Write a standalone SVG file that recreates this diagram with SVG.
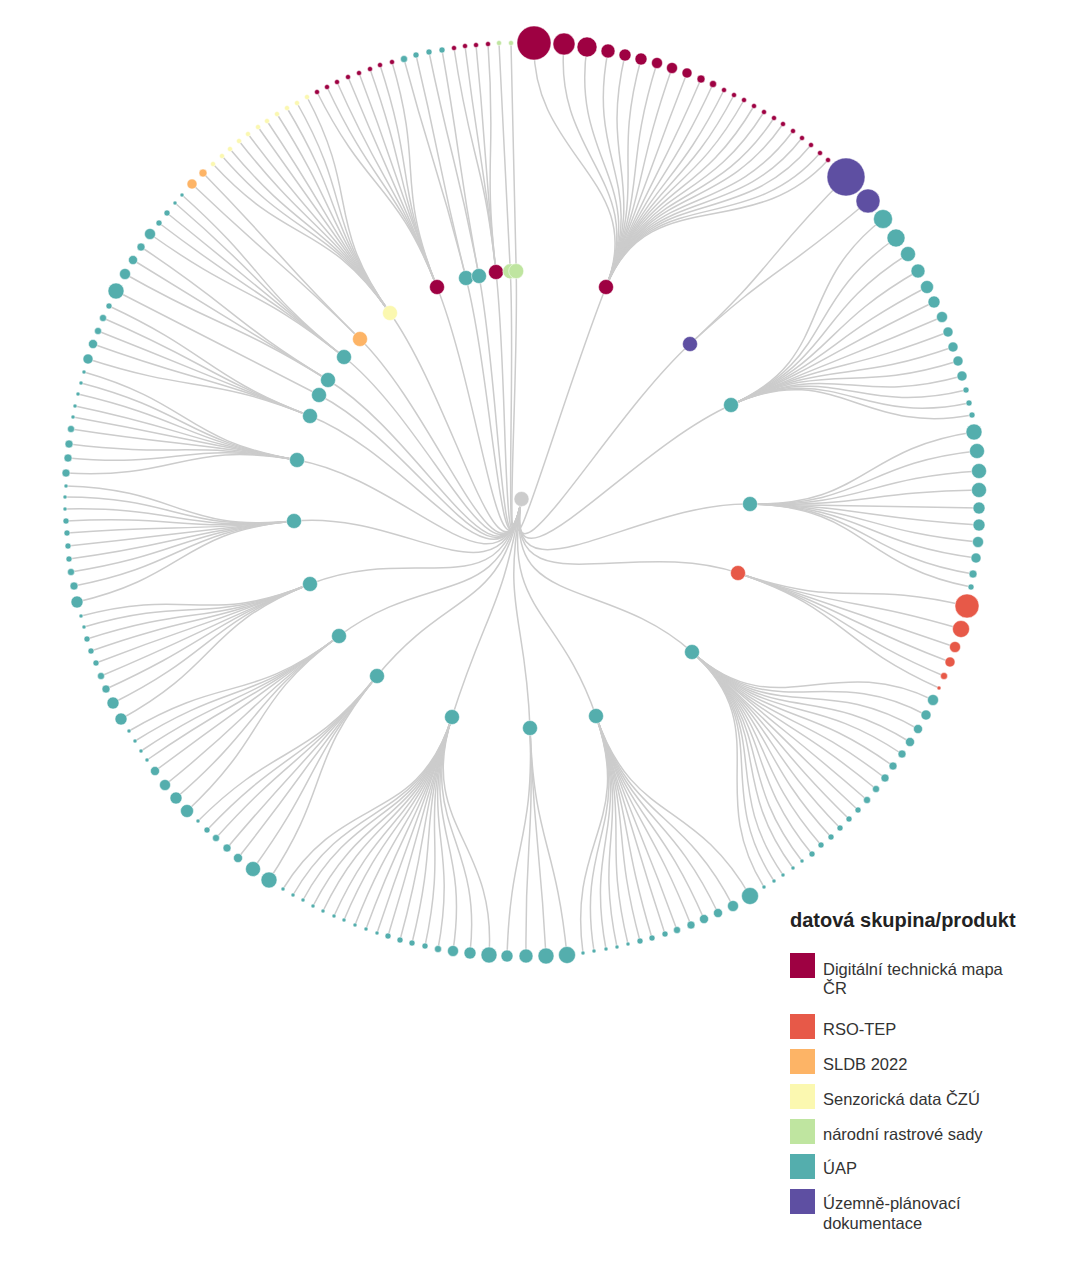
<svg xmlns="http://www.w3.org/2000/svg" width="1084" height="1279" viewBox="0 0 1084 1279">
<style>
.lk{fill:none;stroke:#cccccc;stroke-width:1.5}
circle{stroke:#ffffff;stroke-width:0.5}
.dtm{fill:#9e0142}.rso{fill:#e75948}.sldb{fill:#fdb466}.sen{fill:#fbf8b0}.nrs{fill:#bfe5a0}.uap{fill:#54aead}.upd{fill:#5e4fa2}.root{fill:#cccccc}
.lt{font-family:"Liberation Sans",Arial,sans-serif;font-size:16.5px;fill:#333333}
.ttl{font-family:"Liberation Sans",Arial,sans-serif;font-size:20px;font-weight:bold;fill:#222222}
</style>
<rect width="1084" height="1279" fill="#ffffff"/>
<g id="links">
<path class="lk" d="M521.5 499C501.7 611.3 563.75 393 606 287"/>
<path class="lk" d="M521.5 499C501.7 611.3 605.75 421.5 690 344"/>
<path class="lk" d="M521.5 499C501.7 611.3 626.25 452 731 405"/>
<path class="lk" d="M521.5 499C501.7 611.3 635.75 501.5 750 504"/>
<path class="lk" d="M521.5 499C501.7 611.3 629.75 536 738 573"/>
<path class="lk" d="M521.5 499C501.7 611.3 606.75 575.5 692 652"/>
<path class="lk" d="M521.5 499C501.7 611.3 558.75 607.5 596 716"/>
<path class="lk" d="M521.5 499C501.7 611.3 525.75 613.5 530 728"/>
<path class="lk" d="M521.5 499C501.7 611.3 486.75 608 452 717"/>
<path class="lk" d="M521.5 499C501.7 611.3 449.25 587.5 377 676"/>
<path class="lk" d="M521.5 499C501.7 611.3 430.25 567.5 339 636"/>
<path class="lk" d="M521.5 499C501.7 611.3 415.75 541.5 310 584"/>
<path class="lk" d="M521.5 499C501.7 611.3 407.75 510 294 521"/>
<path class="lk" d="M521.5 499C501.7 611.3 409.25 479.5 297 460"/>
<path class="lk" d="M521.5 499C501.7 611.3 415.75 457.5 310 416"/>
<path class="lk" d="M521.5 499C501.7 611.3 420.25 447 319 395"/>
<path class="lk" d="M521.5 499C501.7 611.3 424.75 439.5 328 380"/>
<path class="lk" d="M521.5 499C501.7 611.3 432.75 428 344 357"/>
<path class="lk" d="M521.5 499C501.7 611.3 440.75 419 360 339"/>
<path class="lk" d="M521.5 499C501.7 611.3 455.75 406 390 313"/>
<path class="lk" d="M521.5 499C501.7 611.3 479.25 392.5 437 287"/>
<path class="lk" d="M521.5 499C501.7 611.3 493.75 388.5 466 278"/>
<path class="lk" d="M521.5 499C501.7 611.3 500.25 387.5 479 276"/>
<path class="lk" d="M521.5 499C501.7 611.3 508.75 385.5 496 272"/>
<path class="lk" d="M521.5 499C501.7 611.3 515.9 385.15 510.3 271.3"/>
<path class="lk" d="M521.5 499C501.7 611.3 518.85 385.05 516.2 271.1"/>
<path class="lk" d="M606 287C648.25 181 530.9 157 534 43"/>
<path class="lk" d="M606 287C648.25 181 553.4 157.75 564 44"/>
<path class="lk" d="M606 287C648.25 181 570.6 160 587 47"/>
<path class="lk" d="M606 287C648.25 181 586.4 163 608 51"/>
<path class="lk" d="M606 287C648.25 181 599.1 166 625 55"/>
<path class="lk" d="M606 287C648.25 181 611.1 169 641 59"/>
<path class="lk" d="M606 287C648.25 181 623.1 172 657 63"/>
<path class="lk" d="M606 287C648.25 181 634.4 175.75 672 68"/>
<path class="lk" d="M606 287C648.25 181 645.6 179.5 687 73"/>
<path class="lk" d="M606 287C648.25 181 656.1 184 701 79"/>
<path class="lk" d="M606 287C648.25 181 665.1 187.75 713 84"/>
<path class="lk" d="M606 287C648.25 181 673.4 192.25 724 90"/>
<path class="lk" d="M606 287C648.25 181 680.9 196 734 95"/>
<path class="lk" d="M606 287C648.25 181 688.4 199.75 744 100"/>
<path class="lk" d="M606 287C648.25 181 695.9 204.25 754 106"/>
<path class="lk" d="M606 287C648.25 181 703.4 208.75 764 112"/>
<path class="lk" d="M606 287C648.25 181 710.9 213.25 774 118"/>
<path class="lk" d="M606 287C648.25 181 717.6 217.75 783 124"/>
<path class="lk" d="M606 287C648.25 181 725.1 223 793 131"/>
<path class="lk" d="M606 287C648.25 181 731.9 228.25 802 138"/>
<path class="lk" d="M606 287C648.25 181 738.6 233.5 811 145"/>
<path class="lk" d="M606 287C648.25 181 745.4 239.5 820 153"/>
<path class="lk" d="M606 287C648.25 181 751.4 244.75 828 160"/>
<path class="lk" d="M690 344C774.25 266.5 764.9 257.5 846 177"/>
<path class="lk" d="M690 344C774.25 266.5 781.4 275.5 868 201"/>
<path class="lk" d="M731 405C835.75 358 792.6 289 883 219"/>
<path class="lk" d="M731 405C835.75 358 802.4 303.25 896 238"/>
<path class="lk" d="M731 405C835.75 358 811.4 315.25 908 254"/>
<path class="lk" d="M731 405C835.75 358 818.9 328 918 271"/>
<path class="lk" d="M731 405C835.75 358 825.6 340 927 287"/>
<path class="lk" d="M731 405C835.75 358 830.9 351.25 934 302"/>
<path class="lk" d="M731 405C835.75 358 836.9 362.5 942 317"/>
<path class="lk" d="M731 405C835.75 358 841.4 373.75 948 332"/>
<path class="lk" d="M731 405C835.75 358 845.1 385 953 347"/>
<path class="lk" d="M731 405C835.75 358 848.9 395.5 958 361"/>
<path class="lk" d="M731 405C835.75 358 851.9 406.75 962 376"/>
<path class="lk" d="M731 405C835.75 358 854.9 417.25 966 390"/>
<path class="lk" d="M731 405C835.75 358 857.1 427 969 403"/>
<path class="lk" d="M731 405C835.75 358 859.4 436 972 415"/>
<path class="lk" d="M750 504C864.25 506.5 860.9 448.75 974 432"/>
<path class="lk" d="M750 504C864.25 506.5 863.1 463 977 451"/>
<path class="lk" d="M750 504C864.25 506.5 864.6 478 979 471"/>
<path class="lk" d="M750 504C864.25 506.5 864.6 492.25 979 490"/>
<path class="lk" d="M750 504C864.25 506.5 864.6 505.75 979 508"/>
<path class="lk" d="M750 504C864.25 506.5 864.6 518.5 979 525"/>
<path class="lk" d="M750 504C864.25 506.5 863.9 531.25 978 542"/>
<path class="lk" d="M750 504C864.25 506.5 862.4 543.25 976 558"/>
<path class="lk" d="M750 504C864.25 506.5 860.1 555.25 973 574"/>
<path class="lk" d="M750 504C864.25 506.5 858.6 565 971 587"/>
<path class="lk" d="M738 573C846.25 610 855.6 579.25 967 606"/>
<path class="lk" d="M738 573C846.25 610 851.1 596.5 961 629"/>
<path class="lk" d="M738 573C846.25 610 846.6 610 955 647"/>
<path class="lk" d="M738 573C846.25 610 842.9 621.25 950 662"/>
<path class="lk" d="M738 573C846.25 610 838.4 631.75 944 676"/>
<path class="lk" d="M738 573C846.25 610 834.6 640.75 939 688"/>
<path class="lk" d="M692 652C777.25 728.5 830.1 649.75 933 700"/>
<path class="lk" d="M692 652C777.25 728.5 824.9 661 926 715"/>
<path class="lk" d="M692 652C777.25 728.5 818.9 671.5 918 729"/>
<path class="lk" d="M692 652C777.25 728.5 812.9 681.25 910 742"/>
<path class="lk" d="M692 652C777.25 728.5 806.9 690.25 902 754"/>
<path class="lk" d="M692 652C777.25 728.5 800.1 699.25 893 766"/>
<path class="lk" d="M692 652C777.25 728.5 794.1 708.25 885 778"/>
<path class="lk" d="M692 652C777.25 728.5 787.4 716.5 876 789"/>
<path class="lk" d="M692 652C777.25 728.5 780.6 724.75 867 800"/>
<path class="lk" d="M692 652C777.25 728.5 773.9 732.25 858 810"/>
<path class="lk" d="M692 652C777.25 728.5 767.1 739 849 819"/>
<path class="lk" d="M692 652C777.25 728.5 760.4 745.75 840 828"/>
<path class="lk" d="M692 652C777.25 728.5 753.6 752.5 831 837"/>
<path class="lk" d="M692 652C777.25 728.5 746.1 758.5 821 845"/>
<path class="lk" d="M692 652C777.25 728.5 739.4 765.25 812 854"/>
<path class="lk" d="M692 652C777.25 728.5 731.9 770.5 802 861"/>
<path class="lk" d="M692 652C777.25 728.5 725.1 775.75 793 868"/>
<path class="lk" d="M692 652C777.25 728.5 717.6 781 783 875"/>
<path class="lk" d="M692 652C777.25 728.5 710.9 785.5 774 881"/>
<path class="lk" d="M692 652C777.25 728.5 703.4 790 764 887"/>
<path class="lk" d="M596 716C633.25 824.5 692.9 796.75 750 896"/>
<path class="lk" d="M596 716C633.25 824.5 680.1 804.25 733 906"/>
<path class="lk" d="M596 716C633.25 824.5 668.9 809.5 718 913"/>
<path class="lk" d="M596 716C633.25 824.5 658.4 814 704 919"/>
<path class="lk" d="M596 716C633.25 824.5 648.6 818.5 691 925"/>
<path class="lk" d="M596 716C633.25 824.5 638.1 822.25 677 930"/>
<path class="lk" d="M596 716C633.25 824.5 629.1 825.25 665 934"/>
<path class="lk" d="M596 716C633.25 824.5 619.4 828.25 652 938"/>
<path class="lk" d="M596 716C633.25 824.5 610.4 830.5 640 941"/>
<path class="lk" d="M596 716C633.25 824.5 601.4 832.75 628 944"/>
<path class="lk" d="M596 716C633.25 824.5 593.1 835 617 947"/>
<path class="lk" d="M596 716C633.25 824.5 584.9 836.5 606 949"/>
<path class="lk" d="M596 716C633.25 824.5 575.9 838 594 951"/>
<path class="lk" d="M596 716C633.25 824.5 567.6 839.5 583 953"/>
<path class="lk" d="M530 728C534.25 842.5 555.6 841 567 955"/>
<path class="lk" d="M530 728C534.25 842.5 539.9 841.75 546 956"/>
<path class="lk" d="M530 728C534.25 842.5 524.9 841.75 526 956"/>
<path class="lk" d="M530 728C534.25 842.5 510.6 841.75 507 956"/>
<path class="lk" d="M452 717C417.25 826 497.1 841 489 955"/>
<path class="lk" d="M452 717C417.25 826 482.9 839.5 470 953"/>
<path class="lk" d="M452 717C417.25 826 470.1 838 453 951"/>
<path class="lk" d="M452 717C417.25 826 458.9 836.5 438 949"/>
<path class="lk" d="M452 717C417.25 826 449.1 834.25 425 946"/>
<path class="lk" d="M452 717C417.25 826 439.4 832 412 943"/>
<path class="lk" d="M452 717C417.25 826 430.4 829.75 400 940"/>
<path class="lk" d="M452 717C417.25 826 421.4 826.75 388 936"/>
<path class="lk" d="M452 717C417.25 826 413.1 824.5 377 933"/>
<path class="lk" d="M452 717C417.25 826 404.9 821.5 366 929"/>
<path class="lk" d="M452 717C417.25 826 396.6 818.5 355 925"/>
<path class="lk" d="M452 717C417.25 826 388.4 814.75 344 920"/>
<path class="lk" d="M452 717C417.25 826 380.9 811.75 334 916"/>
<path class="lk" d="M452 717C417.25 826 372.6 808 323 911"/>
<path class="lk" d="M452 717C417.25 826 365.1 804.25 313 906"/>
<path class="lk" d="M452 717C417.25 826 357.6 799.75 303 900"/>
<path class="lk" d="M452 717C417.25 826 350.1 796 293 895"/>
<path class="lk" d="M452 717C417.25 826 342.6 791.5 283 889"/>
<path class="lk" d="M377 676C304.75 764.5 332.1 784.75 269 880"/>
<path class="lk" d="M377 676C304.75 764.5 320.1 776.5 253 869"/>
<path class="lk" d="M377 676C304.75 764.5 308.9 768.25 238 858"/>
<path class="lk" d="M377 676C304.75 764.5 300.6 760.75 227 848"/>
<path class="lk" d="M377 676C304.75 764.5 292.4 753.25 216 838"/>
<path class="lk" d="M377 676C304.75 764.5 285.6 747.25 207 830"/>
<path class="lk" d="M377 676C304.75 764.5 278.9 740.5 198 821"/>
<path class="lk" d="M339 636C247.75 704.5 270.6 733 187 811"/>
<path class="lk" d="M339 636C247.75 704.5 262.4 723.25 176 798"/>
<path class="lk" d="M339 636C247.75 704.5 254.1 713.5 165 785"/>
<path class="lk" d="M339 636C247.75 704.5 246.6 703 155 771"/>
<path class="lk" d="M339 636C247.75 704.5 240.6 694.75 147 760"/>
<path class="lk" d="M339 636C247.75 704.5 236.1 688 141 751"/>
<path class="lk" d="M339 636C247.75 704.5 231.6 680.5 135 741"/>
<path class="lk" d="M339 636C247.75 704.5 227.1 673 129 731"/>
<path class="lk" d="M310 584C204.25 626.5 221.1 664 121 719"/>
<path class="lk" d="M310 584C204.25 626.5 215.1 652 113 703"/>
<path class="lk" d="M310 584C204.25 626.5 209.9 641.5 106 689"/>
<path class="lk" d="M310 584C204.25 626.5 206.1 631.75 101 676"/>
<path class="lk" d="M310 584C204.25 626.5 202.4 622 96 663"/>
<path class="lk" d="M310 584C204.25 626.5 198.6 613 91 651"/>
<path class="lk" d="M310 584C204.25 626.5 195.6 604 87 639"/>
<path class="lk" d="M310 584C204.25 626.5 193.4 595 84 627"/>
<path class="lk" d="M310 584C204.25 626.5 191.1 586.75 81 616"/>
<path class="lk" d="M294 521C180.25 532 188.1 576.25 77 602"/>
<path class="lk" d="M294 521C180.25 532 185.9 564.25 74 586"/>
<path class="lk" d="M294 521C180.25 532 183.6 553.75 71 572"/>
<path class="lk" d="M294 521C180.25 532 182.1 544 69 559"/>
<path class="lk" d="M294 521C180.25 532 181.4 534.25 68 546"/>
<path class="lk" d="M294 521C180.25 532 180.6 524.5 67 533"/>
<path class="lk" d="M294 521C180.25 532 179.9 515.5 66 521"/>
<path class="lk" d="M294 521C180.25 532 179.1 506.5 65 509"/>
<path class="lk" d="M294 521C180.25 532 179.1 497.5 65 497"/>
<path class="lk" d="M294 521C180.25 532 179.9 489.25 66 486"/>
<path class="lk" d="M297 460C184.75 440.5 179.9 479.5 66 473"/>
<path class="lk" d="M297 460C184.75 440.5 181.4 468.25 68 458"/>
<path class="lk" d="M297 460C184.75 440.5 182.1 457.75 69 444"/>
<path class="lk" d="M297 460C184.75 440.5 183.6 446.5 71 429"/>
<path class="lk" d="M297 460C184.75 440.5 185.1 437.5 73 417"/>
<path class="lk" d="M297 460C184.75 440.5 186.6 429.25 75 406"/>
<path class="lk" d="M297 460C184.75 440.5 188.9 420.25 78 394"/>
<path class="lk" d="M297 460C184.75 440.5 191.1 412 81 383"/>
<path class="lk" d="M297 460C184.75 440.5 193.4 403.75 84 372"/>
<path class="lk" d="M310 416C204.25 374.5 196.4 394 88 359"/>
<path class="lk" d="M310 416C204.25 374.5 200.1 382.75 93 344"/>
<path class="lk" d="M310 416C204.25 374.5 203.9 373 98 331"/>
<path class="lk" d="M310 416C204.25 374.5 207.6 363.25 103 318"/>
<path class="lk" d="M310 416C204.25 374.5 212.1 354.25 109 306"/>
<path class="lk" d="M319 395C217.75 343 217.4 343 116 291"/>
<path class="lk" d="M328 380C231.25 320.5 224.1 330.25 125 274"/>
<path class="lk" d="M328 380C231.25 320.5 230.1 319.75 133 260"/>
<path class="lk" d="M328 380C231.25 320.5 236.1 310 141 247"/>
<path class="lk" d="M344 357C255.25 286 242.9 300.25 150 234"/>
<path class="lk" d="M344 357C255.25 286 249.6 292 159 223"/>
<path class="lk" d="M344 357C255.25 286 255.6 284.5 167 213"/>
<path class="lk" d="M344 357C255.25 286 261.6 277 175 203"/>
<path class="lk" d="M344 357C255.25 286 266.9 271 182 195"/>
<path class="lk" d="M360 339C279.25 259 274.4 262.75 192 184"/>
<path class="lk" d="M360 339C279.25 259 282.6 254.5 203 173"/>
<path class="lk" d="M390 313C324.25 220 290.1 247.75 213 164"/>
<path class="lk" d="M390 313C324.25 220 296.9 241.75 222 156"/>
<path class="lk" d="M390 313C324.25 220 302.9 236.5 230 149"/>
<path class="lk" d="M390 313C324.25 220 309.6 230.5 239 141"/>
<path class="lk" d="M390 313C324.25 220 316.4 225.25 248 134"/>
<path class="lk" d="M390 313C324.25 220 323.9 220 258 127"/>
<path class="lk" d="M390 313C324.25 220 330.6 215.5 267 121"/>
<path class="lk" d="M390 313C324.25 220 338.1 210.25 277 114"/>
<path class="lk" d="M390 313C324.25 220 345.6 205.75 287 108"/>
<path class="lk" d="M390 313C324.25 220 353.1 202 297 103"/>
<path class="lk" d="M390 313C324.25 220 360.6 197.5 307 97"/>
<path class="lk" d="M437 287C394.75 181 368.1 193.75 317 92"/>
<path class="lk" d="M437 287C394.75 181 375.6 190 327 87"/>
<path class="lk" d="M437 287C394.75 181 383.1 186.25 337 82"/>
<path class="lk" d="M437 287C394.75 181 391.4 182.5 348 77"/>
<path class="lk" d="M437 287C394.75 181 399.6 179.5 359 73"/>
<path class="lk" d="M437 287C394.75 181 407.9 176.5 370 69"/>
<path class="lk" d="M437 287C394.75 181 415.4 173.5 380 65"/>
<path class="lk" d="M437 287C394.75 181 424.4 171.25 392 62"/>
<path class="lk" d="M466 278C438.25 167.5 433.4 169 404 59"/>
<path class="lk" d="M466 278C438.25 167.5 442.4 166 416 55"/>
<path class="lk" d="M479 276C457.75 164.5 452.1 163.75 429 52"/>
<path class="lk" d="M479 276C457.75 164.5 461.9 162.25 442 50"/>
<path class="lk" d="M496 272C483.25 158.5 470.9 160.75 454 48"/>
<path class="lk" d="M496 272C483.25 158.5 479.1 159.25 465 46"/>
<path class="lk" d="M496 272C483.25 158.5 487.4 158.5 476 45"/>
<path class="lk" d="M496 272C483.25 158.5 496.4 157.75 488 44"/>
<path class="lk" d="M510.3 271.3C504.7 157.45 504.6 157 499 43"/>
<path class="lk" d="M516.2 271.1C513.55 157.15 513.6 157 511 43"/>
</g>
<g id="nodes">
<g id="root"><circle class="root" cx="521.5" cy="499" r="7.5"/></g>
<g id="p-dtm-a"><circle class="dtm" cx="606" cy="287" r="7.5"/></g>
<g id="p-upd"><circle class="upd" cx="690" cy="344" r="7.5"/></g>
<g id="p-uap-1"><circle class="uap" cx="731" cy="405" r="7.5"/></g>
<g id="p-uap-2"><circle class="uap" cx="750" cy="504" r="7.5"/></g>
<g id="p-rso"><circle class="rso" cx="738" cy="573" r="7.5"/></g>
<g id="p-uap-3"><circle class="uap" cx="692" cy="652" r="7.5"/></g>
<g id="p-uap-4"><circle class="uap" cx="596" cy="716" r="7.5"/></g>
<g id="p-uap-5"><circle class="uap" cx="530" cy="728" r="7.5"/></g>
<g id="p-uap-6"><circle class="uap" cx="452" cy="717" r="7.5"/></g>
<g id="p-uap-7"><circle class="uap" cx="377" cy="676" r="7.5"/></g>
<g id="p-uap-8"><circle class="uap" cx="339" cy="636" r="7.5"/></g>
<g id="p-uap-9"><circle class="uap" cx="310" cy="584" r="7.5"/></g>
<g id="p-uap-10"><circle class="uap" cx="294" cy="521" r="7.5"/></g>
<g id="p-uap-11"><circle class="uap" cx="297" cy="460" r="7.5"/></g>
<g id="p-uap-12"><circle class="uap" cx="310" cy="416" r="7.5"/></g>
<g id="p-uap-13"><circle class="uap" cx="319" cy="395" r="7.5"/></g>
<g id="p-uap-14"><circle class="uap" cx="328" cy="380" r="7.5"/></g>
<g id="p-uap-15"><circle class="uap" cx="344" cy="357" r="7.5"/></g>
<g id="p-sldb"><circle class="sldb" cx="360" cy="339" r="7.5"/></g>
<g id="p-sen"><circle class="sen" cx="390" cy="313" r="7.5"/></g>
<g id="p-dtm-b"><circle class="dtm" cx="437" cy="287" r="7.5"/></g>
<g id="p-uap-16"><circle class="uap" cx="466" cy="278" r="7.5"/></g>
<g id="p-uap-17"><circle class="uap" cx="479" cy="276" r="7.5"/></g>
<g id="p-dtm-c"><circle class="dtm" cx="496" cy="272" r="7.5"/></g>
<g id="p-nrs-1"><circle class="nrs" cx="510.3" cy="271.3" r="7.5"/></g>
<g id="p-nrs-2"><circle class="nrs" cx="516.2" cy="271.1" r="7.5"/></g>
<g id="l1"><circle class="dtm" cx="534" cy="43" r="17"/></g>
<g id="l2"><circle class="dtm" cx="564" cy="44" r="11"/></g>
<g id="l3"><circle class="dtm" cx="587" cy="47" r="10"/></g>
<g id="l4"><circle class="dtm" cx="608" cy="51" r="7"/></g>
<g id="l5"><circle class="dtm" cx="625" cy="55" r="6"/></g>
<g id="l6"><circle class="dtm" cx="641" cy="59" r="6"/></g>
<g id="l7"><circle class="dtm" cx="657" cy="63" r="5.5"/></g>
<g id="l8"><circle class="dtm" cx="672" cy="68" r="5.5"/></g>
<g id="l9"><circle class="dtm" cx="687" cy="73" r="5"/></g>
<g id="l10"><circle class="dtm" cx="701" cy="79" r="4"/></g>
<g id="l11"><circle class="dtm" cx="713" cy="84" r="3.5"/></g>
<g id="l12"><circle class="dtm" cx="724" cy="90" r="2.5"/></g>
<g id="l13"><circle class="dtm" cx="734" cy="95" r="2.5"/></g>
<g id="l14"><circle class="dtm" cx="744" cy="100" r="2.5"/></g>
<g id="l15"><circle class="dtm" cx="754" cy="106" r="2.5"/></g>
<g id="l16"><circle class="dtm" cx="764" cy="112" r="2.5"/></g>
<g id="l17"><circle class="dtm" cx="774" cy="118" r="2.5"/></g>
<g id="l18"><circle class="dtm" cx="783" cy="124" r="2.5"/></g>
<g id="l19"><circle class="dtm" cx="793" cy="131" r="2.5"/></g>
<g id="l20"><circle class="dtm" cx="802" cy="138" r="2.5"/></g>
<g id="l21"><circle class="dtm" cx="811" cy="145" r="2.5"/></g>
<g id="l22"><circle class="dtm" cx="820" cy="153" r="2.5"/></g>
<g id="l23"><circle class="dtm" cx="828" cy="160" r="2.5"/></g>
<g id="l24"><circle class="upd" cx="846" cy="177" r="19"/></g>
<g id="l25"><circle class="upd" cx="868" cy="201" r="12"/></g>
<g id="l26"><circle class="uap" cx="883" cy="219" r="9.5"/></g>
<g id="l27"><circle class="uap" cx="896" cy="238" r="9"/></g>
<g id="l28"><circle class="uap" cx="908" cy="254" r="7.5"/></g>
<g id="l29"><circle class="uap" cx="918" cy="271" r="7"/></g>
<g id="l30"><circle class="uap" cx="927" cy="287" r="6.5"/></g>
<g id="l31"><circle class="uap" cx="934" cy="302" r="6"/></g>
<g id="l32"><circle class="uap" cx="942" cy="317" r="5.5"/></g>
<g id="l33"><circle class="uap" cx="948" cy="332" r="5"/></g>
<g id="l34"><circle class="uap" cx="953" cy="347" r="5"/></g>
<g id="l35"><circle class="uap" cx="958" cy="361" r="5"/></g>
<g id="l36"><circle class="uap" cx="962" cy="376" r="5"/></g>
<g id="l37"><circle class="uap" cx="966" cy="390" r="3"/></g>
<g id="l38"><circle class="uap" cx="969" cy="403" r="3"/></g>
<g id="l39"><circle class="uap" cx="972" cy="415" r="3"/></g>
<g id="l40"><circle class="uap" cx="974" cy="432" r="8"/></g>
<g id="l41"><circle class="uap" cx="977" cy="451" r="7.5"/></g>
<g id="l42"><circle class="uap" cx="979" cy="471" r="7.5"/></g>
<g id="l43"><circle class="uap" cx="979" cy="490" r="7.5"/></g>
<g id="l44"><circle class="uap" cx="979" cy="508" r="6"/></g>
<g id="l45"><circle class="uap" cx="979" cy="525" r="6"/></g>
<g id="l46"><circle class="uap" cx="978" cy="542" r="5.5"/></g>
<g id="l47"><circle class="uap" cx="976" cy="558" r="5"/></g>
<g id="l48"><circle class="uap" cx="973" cy="574" r="4"/></g>
<g id="l49"><circle class="uap" cx="971" cy="587" r="3"/></g>
<g id="l50"><circle class="rso" cx="967" cy="606" r="12"/></g>
<g id="l51"><circle class="rso" cx="961" cy="629" r="8.5"/></g>
<g id="l52"><circle class="rso" cx="955" cy="647" r="5.5"/></g>
<g id="l53"><circle class="rso" cx="950" cy="662" r="5"/></g>
<g id="l54"><circle class="rso" cx="944" cy="676" r="3.5"/></g>
<g id="l55"><circle class="rso" cx="939" cy="688" r="2"/></g>
<g id="l56"><circle class="uap" cx="933" cy="700" r="5.5"/></g>
<g id="l57"><circle class="uap" cx="926" cy="715" r="5"/></g>
<g id="l58"><circle class="uap" cx="918" cy="729" r="4.5"/></g>
<g id="l59"><circle class="uap" cx="910" cy="742" r="4.5"/></g>
<g id="l60"><circle class="uap" cx="902" cy="754" r="4"/></g>
<g id="l61"><circle class="uap" cx="893" cy="766" r="4"/></g>
<g id="l62"><circle class="uap" cx="885" cy="778" r="4"/></g>
<g id="l63"><circle class="uap" cx="876" cy="789" r="3.5"/></g>
<g id="l64"><circle class="uap" cx="867" cy="800" r="3.5"/></g>
<g id="l65"><circle class="uap" cx="858" cy="810" r="3"/></g>
<g id="l66"><circle class="uap" cx="849" cy="819" r="3"/></g>
<g id="l67"><circle class="uap" cx="840" cy="828" r="3"/></g>
<g id="l68"><circle class="uap" cx="831" cy="837" r="3"/></g>
<g id="l69"><circle class="uap" cx="821" cy="845" r="3"/></g>
<g id="l70"><circle class="uap" cx="812" cy="854" r="3"/></g>
<g id="l71"><circle class="uap" cx="802" cy="861" r="2"/></g>
<g id="l72"><circle class="uap" cx="793" cy="868" r="2"/></g>
<g id="l73"><circle class="uap" cx="783" cy="875" r="2"/></g>
<g id="l74"><circle class="uap" cx="774" cy="881" r="2"/></g>
<g id="l75"><circle class="uap" cx="764" cy="887" r="2"/></g>
<g id="l76"><circle class="uap" cx="750" cy="896" r="8.5"/></g>
<g id="l77"><circle class="uap" cx="733" cy="906" r="5.5"/></g>
<g id="l78"><circle class="uap" cx="718" cy="913" r="4.5"/></g>
<g id="l79"><circle class="uap" cx="704" cy="919" r="4.5"/></g>
<g id="l80"><circle class="uap" cx="691" cy="925" r="4"/></g>
<g id="l81"><circle class="uap" cx="677" cy="930" r="3.5"/></g>
<g id="l82"><circle class="uap" cx="665" cy="934" r="3"/></g>
<g id="l83"><circle class="uap" cx="652" cy="938" r="3"/></g>
<g id="l84"><circle class="uap" cx="640" cy="941" r="3"/></g>
<g id="l85"><circle class="uap" cx="628" cy="944" r="2"/></g>
<g id="l86"><circle class="uap" cx="617" cy="947" r="2"/></g>
<g id="l87"><circle class="uap" cx="606" cy="949" r="2"/></g>
<g id="l88"><circle class="uap" cx="594" cy="951" r="2"/></g>
<g id="l89"><circle class="uap" cx="583" cy="953" r="2"/></g>
<g id="l90"><circle class="uap" cx="567" cy="955" r="8.5"/></g>
<g id="l91"><circle class="uap" cx="546" cy="956" r="8"/></g>
<g id="l92"><circle class="uap" cx="526" cy="956" r="7"/></g>
<g id="l93"><circle class="uap" cx="507" cy="956" r="6"/></g>
<g id="l94"><circle class="uap" cx="489" cy="955" r="8"/></g>
<g id="l95"><circle class="uap" cx="470" cy="953" r="6"/></g>
<g id="l96"><circle class="uap" cx="453" cy="951" r="5.5"/></g>
<g id="l97"><circle class="uap" cx="438" cy="949" r="3.5"/></g>
<g id="l98"><circle class="uap" cx="425" cy="946" r="3"/></g>
<g id="l99"><circle class="uap" cx="412" cy="943" r="3"/></g>
<g id="l100"><circle class="uap" cx="400" cy="940" r="3"/></g>
<g id="l101"><circle class="uap" cx="388" cy="936" r="3"/></g>
<g id="l102"><circle class="uap" cx="377" cy="933" r="2"/></g>
<g id="l103"><circle class="uap" cx="366" cy="929" r="2"/></g>
<g id="l104"><circle class="uap" cx="355" cy="925" r="2"/></g>
<g id="l105"><circle class="uap" cx="344" cy="920" r="2"/></g>
<g id="l106"><circle class="uap" cx="334" cy="916" r="2"/></g>
<g id="l107"><circle class="uap" cx="323" cy="911" r="2"/></g>
<g id="l108"><circle class="uap" cx="313" cy="906" r="2"/></g>
<g id="l109"><circle class="uap" cx="303" cy="900" r="2"/></g>
<g id="l110"><circle class="uap" cx="293" cy="895" r="2"/></g>
<g id="l111"><circle class="uap" cx="283" cy="889" r="2"/></g>
<g id="l112"><circle class="uap" cx="269" cy="880" r="8"/></g>
<g id="l113"><circle class="uap" cx="253" cy="869" r="7.5"/></g>
<g id="l114"><circle class="uap" cx="238" cy="858" r="4.5"/></g>
<g id="l115"><circle class="uap" cx="227" cy="848" r="4"/></g>
<g id="l116"><circle class="uap" cx="216" cy="838" r="3.5"/></g>
<g id="l117"><circle class="uap" cx="207" cy="830" r="3"/></g>
<g id="l118"><circle class="uap" cx="198" cy="821" r="2"/></g>
<g id="l119"><circle class="uap" cx="187" cy="811" r="6.5"/></g>
<g id="l120"><circle class="uap" cx="176" cy="798" r="6"/></g>
<g id="l121"><circle class="uap" cx="165" cy="785" r="5.5"/></g>
<g id="l122"><circle class="uap" cx="155" cy="771" r="4.5"/></g>
<g id="l123"><circle class="uap" cx="147" cy="760" r="2"/></g>
<g id="l124"><circle class="uap" cx="141" cy="751" r="2"/></g>
<g id="l125"><circle class="uap" cx="135" cy="741" r="2"/></g>
<g id="l126"><circle class="uap" cx="129" cy="731" r="2"/></g>
<g id="l127"><circle class="uap" cx="121" cy="719" r="6"/></g>
<g id="l128"><circle class="uap" cx="113" cy="703" r="6"/></g>
<g id="l129"><circle class="uap" cx="106" cy="689" r="4"/></g>
<g id="l130"><circle class="uap" cx="101" cy="676" r="3.5"/></g>
<g id="l131"><circle class="uap" cx="96" cy="663" r="3"/></g>
<g id="l132"><circle class="uap" cx="91" cy="651" r="3"/></g>
<g id="l133"><circle class="uap" cx="87" cy="639" r="3"/></g>
<g id="l134"><circle class="uap" cx="84" cy="627" r="2"/></g>
<g id="l135"><circle class="uap" cx="81" cy="616" r="2"/></g>
<g id="l136"><circle class="uap" cx="77" cy="602" r="6"/></g>
<g id="l137"><circle class="uap" cx="74" cy="586" r="4"/></g>
<g id="l138"><circle class="uap" cx="71" cy="572" r="3.5"/></g>
<g id="l139"><circle class="uap" cx="69" cy="559" r="3"/></g>
<g id="l140"><circle class="uap" cx="68" cy="546" r="3"/></g>
<g id="l141"><circle class="uap" cx="67" cy="533" r="3"/></g>
<g id="l142"><circle class="uap" cx="66" cy="521" r="3"/></g>
<g id="l143"><circle class="uap" cx="65" cy="509" r="2"/></g>
<g id="l144"><circle class="uap" cx="65" cy="497" r="2"/></g>
<g id="l145"><circle class="uap" cx="66" cy="486" r="2"/></g>
<g id="l146"><circle class="uap" cx="66" cy="473" r="4"/></g>
<g id="l147"><circle class="uap" cx="68" cy="458" r="4"/></g>
<g id="l148"><circle class="uap" cx="69" cy="444" r="4"/></g>
<g id="l149"><circle class="uap" cx="71" cy="429" r="3.5"/></g>
<g id="l150"><circle class="uap" cx="73" cy="417" r="2"/></g>
<g id="l151"><circle class="uap" cx="75" cy="406" r="2"/></g>
<g id="l152"><circle class="uap" cx="78" cy="394" r="2"/></g>
<g id="l153"><circle class="uap" cx="81" cy="383" r="2"/></g>
<g id="l154"><circle class="uap" cx="84" cy="372" r="2"/></g>
<g id="l155"><circle class="uap" cx="88" cy="359" r="5"/></g>
<g id="l156"><circle class="uap" cx="93" cy="344" r="4.5"/></g>
<g id="l157"><circle class="uap" cx="98" cy="331" r="3.5"/></g>
<g id="l158"><circle class="uap" cx="103" cy="318" r="3.5"/></g>
<g id="l159"><circle class="uap" cx="109" cy="306" r="3"/></g>
<g id="l160"><circle class="uap" cx="116" cy="291" r="8"/></g>
<g id="l161"><circle class="uap" cx="125" cy="274" r="5.5"/></g>
<g id="l162"><circle class="uap" cx="133" cy="260" r="4.5"/></g>
<g id="l163"><circle class="uap" cx="141" cy="247" r="4"/></g>
<g id="l164"><circle class="uap" cx="150" cy="234" r="5.5"/></g>
<g id="l165"><circle class="uap" cx="159" cy="223" r="3"/></g>
<g id="l166"><circle class="uap" cx="167" cy="213" r="3"/></g>
<g id="l167"><circle class="uap" cx="175" cy="203" r="2"/></g>
<g id="l168"><circle class="uap" cx="182" cy="195" r="2"/></g>
<g id="l169"><circle class="sldb" cx="192" cy="184" r="5"/></g>
<g id="l170"><circle class="sldb" cx="203" cy="173" r="4"/></g>
<g id="l171"><circle class="sen" cx="213" cy="164" r="2.5"/></g>
<g id="l172"><circle class="sen" cx="222" cy="156" r="2.5"/></g>
<g id="l173"><circle class="sen" cx="230" cy="149" r="2.5"/></g>
<g id="l174"><circle class="sen" cx="239" cy="141" r="2.5"/></g>
<g id="l175"><circle class="sen" cx="248" cy="134" r="2.5"/></g>
<g id="l176"><circle class="sen" cx="258" cy="127" r="2.5"/></g>
<g id="l177"><circle class="sen" cx="267" cy="121" r="2.5"/></g>
<g id="l178"><circle class="sen" cx="277" cy="114" r="2.5"/></g>
<g id="l179"><circle class="sen" cx="287" cy="108" r="2.5"/></g>
<g id="l180"><circle class="sen" cx="297" cy="103" r="2.5"/></g>
<g id="l181"><circle class="sen" cx="307" cy="97" r="2.5"/></g>
<g id="l182"><circle class="dtm" cx="317" cy="92" r="2.5"/></g>
<g id="l183"><circle class="dtm" cx="327" cy="87" r="2.5"/></g>
<g id="l184"><circle class="dtm" cx="337" cy="82" r="2.5"/></g>
<g id="l185"><circle class="dtm" cx="348" cy="77" r="2.5"/></g>
<g id="l186"><circle class="dtm" cx="359" cy="73" r="2.5"/></g>
<g id="l187"><circle class="dtm" cx="370" cy="69" r="2.5"/></g>
<g id="l188"><circle class="dtm" cx="380" cy="65" r="2.5"/></g>
<g id="l189"><circle class="dtm" cx="392" cy="62" r="2.5"/></g>
<g id="l190"><circle class="uap" cx="404" cy="59" r="3.5"/></g>
<g id="l191"><circle class="uap" cx="416" cy="55" r="3"/></g>
<g id="l192"><circle class="uap" cx="429" cy="52" r="3"/></g>
<g id="l193"><circle class="uap" cx="442" cy="50" r="3"/></g>
<g id="l194"><circle class="dtm" cx="454" cy="48" r="2.5"/></g>
<g id="l195"><circle class="dtm" cx="465" cy="46" r="2.5"/></g>
<g id="l196"><circle class="dtm" cx="476" cy="45" r="2.5"/></g>
<g id="l197"><circle class="dtm" cx="488" cy="44" r="2.5"/></g>
<g id="l198"><circle class="nrs" cx="499" cy="43" r="2.5"/></g>
<g id="l199"><circle class="nrs" cx="511" cy="43" r="2.5"/></g>
</g>
<g id="legend">
<text class="ttl" x="790" y="927">datová skupina/produkt</text>
<rect class="dtm" x="790" y="953" width="25" height="25"/>
<text class="lt" x="823" y="975">Digitální technická mapa</text>
<text class="lt" x="823" y="994">ČR</text>
<rect class="rso" x="790" y="1014" width="25" height="25"/>
<text class="lt" x="823" y="1035">RSO-TEP</text>
<rect class="sldb" x="790" y="1049" width="25" height="25"/>
<text class="lt" x="823" y="1070">SLDB 2022</text>
<rect class="sen" x="790" y="1084" width="25" height="25"/>
<text class="lt" x="823" y="1105">Senzorická data ČZÚ</text>
<rect class="nrs" x="790" y="1119" width="25" height="25"/>
<text class="lt" x="823" y="1140">národní rastrové sady</text>
<rect class="uap" x="790" y="1154" width="25" height="25"/>
<text class="lt" x="823" y="1174">ÚAP</text>
<rect class="upd" x="790" y="1189" width="25" height="25"/>
<text class="lt" x="823" y="1209">Územně-plánovací</text>
<text class="lt" x="823" y="1229">dokumentace</text>
</g>
</svg>
